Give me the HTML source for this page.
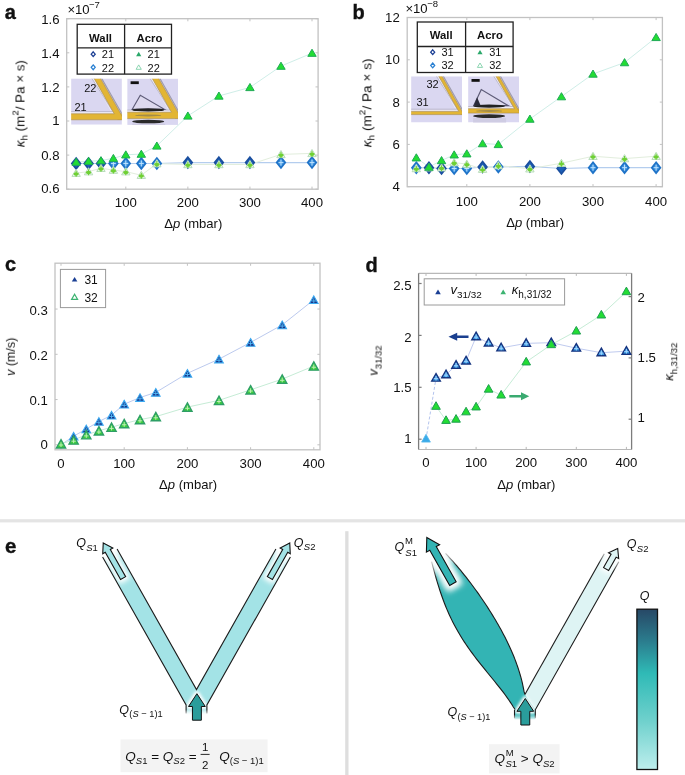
<!DOCTYPE html>
<html><head><meta charset="utf-8"><title>figure</title>
<style>html,body{margin:0;padding:0;background:#fff;}svg{display:block;}text{will-change:transform;}text{font-family:"Liberation Sans", sans-serif;}</style>
</head><body>
<svg width="685" height="775" viewBox="0 0 685 775" font-family='"Liberation Sans", sans-serif'>
<defs>
<filter id="blur2" x="-50%" y="-50%" width="200%" height="200%"><feGaussianBlur stdDeviation="1.6"/></filter>
<filter id="blur3" x="-50%" y="-50%" width="200%" height="200%"><feGaussianBlur stdDeviation="2.6"/></filter>
<filter id="blur4" x="-50%" y="-50%" width="200%" height="200%"><feGaussianBlur stdDeviation="3.4"/></filter>
<linearGradient id="fadeTop" x1="0" y1="0" x2="0" y2="1"><stop offset="0" stop-color="#fff" stop-opacity="0.85"/><stop offset="1" stop-color="#fff" stop-opacity="0"/></linearGradient>
<linearGradient id="fadeTop2" x1="0" y1="0" x2="0" y2="1"><stop offset="0" stop-color="#fff" stop-opacity="0.75"/><stop offset="1" stop-color="#fff" stop-opacity="0"/></linearGradient>
<linearGradient id="fadeTop3" x1="0" y1="0" x2="0" y2="1"><stop offset="0" stop-color="#fff" stop-opacity="0.9"/><stop offset="0.5" stop-color="#fff" stop-opacity="0.45"/><stop offset="1" stop-color="#fff" stop-opacity="0"/></linearGradient>
<linearGradient id="fadeBot" x1="0" y1="0" x2="0" y2="1"><stop offset="0" stop-color="#fff" stop-opacity="0"/><stop offset="1" stop-color="#fff" stop-opacity="1"/></linearGradient>
<linearGradient id="cbar" x1="0" y1="0" x2="0" y2="1">
<stop offset="0" stop-color="#274866"/><stop offset="0.2" stop-color="#2b7d8e"/><stop offset="0.4" stop-color="#2fbab6"/>
<stop offset="0.7" stop-color="#70d1cd"/><stop offset="1" stop-color="#bdeeed"/></linearGradient>
<clipPath id="c0"><rect x="71.1" y="78.4" width="50.8" height="46.3"/></clipPath><clipPath id="c1"><rect x="127.2" y="78.6" width="50.8" height="46.3"/></clipPath><clipPath id="c2"><rect x="411.1" y="76.3" width="50.9" height="46.2"/></clipPath><clipPath id="c3"><rect x="468.1" y="76.3" width="50.9" height="46.2"/></clipPath></defs>
<rect width="685" height="775" fill="#fff"/>
<rect x="66.7" y="18.7" width="251.4" height="170.5" fill="none" stroke="#c2c2c2" stroke-width="1.3" />
<line x1="66.7" y1="189.2" x2="69.3" y2="189.2" stroke="#c2c2c2" stroke-width="1" />
<line x1="318.1" y1="189.2" x2="315.5" y2="189.2" stroke="#c2c2c2" stroke-width="1" />
<line x1="66.7" y1="155.1" x2="69.3" y2="155.1" stroke="#c2c2c2" stroke-width="1" />
<line x1="318.1" y1="155.1" x2="315.5" y2="155.1" stroke="#c2c2c2" stroke-width="1" />
<line x1="66.7" y1="121" x2="69.3" y2="121" stroke="#c2c2c2" stroke-width="1" />
<line x1="318.1" y1="121" x2="315.5" y2="121" stroke="#c2c2c2" stroke-width="1" />
<line x1="66.7" y1="86.9" x2="69.3" y2="86.9" stroke="#c2c2c2" stroke-width="1" />
<line x1="318.1" y1="86.9" x2="315.5" y2="86.9" stroke="#c2c2c2" stroke-width="1" />
<line x1="66.7" y1="52.8" x2="69.3" y2="52.8" stroke="#c2c2c2" stroke-width="1" />
<line x1="318.1" y1="52.8" x2="315.5" y2="52.8" stroke="#c2c2c2" stroke-width="1" />
<line x1="66.7" y1="18.7" x2="69.3" y2="18.7" stroke="#c2c2c2" stroke-width="1" />
<line x1="318.1" y1="18.7" x2="315.5" y2="18.7" stroke="#c2c2c2" stroke-width="1" />
<line x1="125.8" y1="189.2" x2="125.8" y2="186.6" stroke="#c2c2c2" stroke-width="1" />
<line x1="125.8" y1="18.7" x2="125.8" y2="21.3" stroke="#c2c2c2" stroke-width="1" />
<line x1="187.87" y1="189.2" x2="187.87" y2="186.6" stroke="#c2c2c2" stroke-width="1" />
<line x1="187.87" y1="18.7" x2="187.87" y2="21.3" stroke="#c2c2c2" stroke-width="1" />
<line x1="249.94" y1="189.2" x2="249.94" y2="186.6" stroke="#c2c2c2" stroke-width="1" />
<line x1="249.94" y1="18.7" x2="249.94" y2="21.3" stroke="#c2c2c2" stroke-width="1" />
<line x1="312.01" y1="189.2" x2="312.01" y2="186.6" stroke="#c2c2c2" stroke-width="1" />
<line x1="312.01" y1="18.7" x2="312.01" y2="21.3" stroke="#c2c2c2" stroke-width="1" />
<text transform="translate(59.6,24.4) scale(1.1,1)" font-size="12" text-anchor="end" font-weight="normal" font-style="normal" fill="#111" >1.6</text>
<text transform="translate(59.6,57.9) scale(1.1,1)" font-size="12" text-anchor="end" font-weight="normal" font-style="normal" fill="#111" >1.4</text>
<text transform="translate(59.6,92) scale(1.1,1)" font-size="12" text-anchor="end" font-weight="normal" font-style="normal" fill="#111" >1.2</text>
<text transform="translate(59.6,125.4) scale(1.1,1)" font-size="12" text-anchor="end" font-weight="normal" font-style="normal" fill="#111" >1</text>
<text transform="translate(59.6,159.5) scale(1.1,1)" font-size="12" text-anchor="end" font-weight="normal" font-style="normal" fill="#111" >0.8</text>
<text transform="translate(59.6,192.5) scale(1.1,1)" font-size="12" text-anchor="end" font-weight="normal" font-style="normal" fill="#111" >0.6</text>
<text transform="translate(125.8,206.6) scale(1.1,1)" font-size="12" text-anchor="middle" font-weight="normal" font-style="normal" fill="#111" >100</text>
<text transform="translate(187.87,206.6) scale(1.1,1)" font-size="12" text-anchor="middle" font-weight="normal" font-style="normal" fill="#111" >200</text>
<text transform="translate(249.94,206.6) scale(1.1,1)" font-size="12" text-anchor="middle" font-weight="normal" font-style="normal" fill="#111" >300</text>
<text transform="translate(312.01,206.6) scale(1.1,1)" font-size="12" text-anchor="middle" font-weight="normal" font-style="normal" fill="#111" >400</text>
<text transform="translate(67.4,13.9) scale(1.05,1)" font-size="12.5" text-anchor="start" font-weight="normal" font-style="normal" fill="#111" >&#215;10</text>
<text x="88.9" y="8" font-size="9.5" text-anchor="start" font-weight="normal" font-style="normal" fill="#111" >&#8722;7</text>
<text transform="translate(24.5,103.6) rotate(-90) scale(1.03,1)" font-size="13" text-anchor="middle" fill="#111"><tspan font-style="italic">&#954;</tspan><tspan font-size="9.5" dy="2.6">h</tspan><tspan dy="-2.6"> (m</tspan><tspan font-size="9.5" dy="-5.6">2</tspan><tspan dy="5.6">/ Pa &#215; s)</tspan></text>
<text transform="translate(193.3,227.6) scale(1.045,1)" font-size="12.5" text-anchor="middle" fill="#111">&#916;<tspan font-style="italic">p</tspan> (mbar)</text>
<polyline points="76.14,163.45 88.56,163.45 100.97,163.45 113.39,163.45 125.8,163.45 141.32,163.45 156.84,163.45 187.87,162.6 218.91,162.6 249.94,162.6 280.98,162.6 312.01,162.6" fill="none" stroke="#b4cdee" stroke-width="1.1" />
<polyline points="76.14,162.09 88.56,161.24 100.97,160.56 113.39,158.34 125.8,154.76 141.32,154.08 156.84,145.89 187.87,115.88 218.91,95.94 249.94,87.41 280.98,66.1 312.01,53.14" fill="none" stroke="#cfeee8" stroke-width="1" />
<polyline points="76.14,173.17 88.56,171.64 100.97,168.23 113.39,170.1 125.8,171.64 141.32,175.22 156.84,163.62 187.87,164.48 218.91,164.48 249.94,164.48 280.98,154.42 312.01,153.39" fill="none" stroke="#e2eedd" stroke-width="1" />
<polygon points="76.14,158.05 80.44,163.45 76.14,168.85 71.84,163.45" fill="#1e60b8" stroke="#1a4e9e" stroke-width="1.7" />
<polygon points="88.56,158.05 92.86,163.45 88.56,168.85 84.26,163.45" fill="#1e60b8" stroke="#1a4e9e" stroke-width="1.7" />
<polygon points="100.97,158.05 105.27,163.45 100.97,168.85 96.67,163.45" fill="#1e60b8" stroke="#1a4e9e" stroke-width="1.7" />
<polygon points="113.39,158.05 117.69,163.45 113.39,168.85 109.09,163.45" fill="#3d93de" stroke="#1f73c8" stroke-width="1.7" />
<line x1="110.99" y1="163.45" x2="115.79" y2="163.45" stroke="#bfe2ff" stroke-width="1" />
<line x1="113.39" y1="160.45" x2="113.39" y2="166.45" stroke="#bfe2ff" stroke-width="1" />
<polygon points="125.8,158.05 130.1,163.45 125.8,168.85 121.5,163.45" fill="#3d93de" stroke="#1f73c8" stroke-width="1.7" />
<line x1="123.4" y1="163.45" x2="128.2" y2="163.45" stroke="#bfe2ff" stroke-width="1" />
<line x1="125.8" y1="160.45" x2="125.8" y2="166.45" stroke="#bfe2ff" stroke-width="1" />
<polygon points="141.32,158.05 145.62,163.45 141.32,168.85 137.02,163.45" fill="#3d93de" stroke="#1f73c8" stroke-width="1.7" />
<line x1="138.92" y1="163.45" x2="143.72" y2="163.45" stroke="#bfe2ff" stroke-width="1" />
<line x1="141.32" y1="160.45" x2="141.32" y2="166.45" stroke="#bfe2ff" stroke-width="1" />
<polygon points="156.84,158.05 161.14,163.45 156.84,168.85 152.53,163.45" fill="#3d93de" stroke="#1f73c8" stroke-width="1.7" />
<line x1="154.44" y1="163.45" x2="159.24" y2="163.45" stroke="#bfe2ff" stroke-width="1" />
<line x1="156.84" y1="160.45" x2="156.84" y2="166.45" stroke="#bfe2ff" stroke-width="1" />
<polygon points="187.87,157.2 192.17,162.6 187.87,168 183.57,162.6" fill="#1e60b8" stroke="#1a4e9e" stroke-width="1.7" />
<polygon points="218.91,157.2 223.21,162.6 218.91,168 214.6,162.6" fill="#1e60b8" stroke="#1a4e9e" stroke-width="1.7" />
<polygon points="249.94,157.2 254.24,162.6 249.94,168 245.64,162.6" fill="#1e60b8" stroke="#1a4e9e" stroke-width="1.7" />
<polygon points="280.98,157.2 285.28,162.6 280.98,168 276.68,162.6" fill="#3d93de" stroke="#1f73c8" stroke-width="1.7" />
<line x1="278.58" y1="162.6" x2="283.38" y2="162.6" stroke="#bfe2ff" stroke-width="1" />
<line x1="280.98" y1="159.6" x2="280.98" y2="165.6" stroke="#bfe2ff" stroke-width="1" />
<polygon points="312.01,157.2 316.31,162.6 312.01,168 307.71,162.6" fill="#3d93de" stroke="#1f73c8" stroke-width="1.7" />
<line x1="309.61" y1="162.6" x2="314.41" y2="162.6" stroke="#bfe2ff" stroke-width="1" />
<line x1="312.01" y1="159.6" x2="312.01" y2="165.6" stroke="#bfe2ff" stroke-width="1" />
<polygon points="76.14,169.25 80.34,176.39 71.94,176.39" fill="#f4fbf4" stroke="#b6dcb8" stroke-width="1" />
<ellipse cx="76.14" cy="173.97" rx="2.7" ry="1.8" fill="#6fd035"/>
<line x1="76.14" y1="170.67" x2="76.14" y2="176.67" stroke="#6fd035" stroke-width="1.1" />
<polygon points="88.56,167.71 92.76,174.85 84.36,174.85" fill="#f4fbf4" stroke="#b6dcb8" stroke-width="1" />
<ellipse cx="88.56" cy="172.44" rx="2.7" ry="1.8" fill="#6fd035"/>
<line x1="88.56" y1="169.14" x2="88.56" y2="175.14" stroke="#6fd035" stroke-width="1.1" />
<polygon points="100.97,164.3 105.17,171.44 96.77,171.44" fill="#f4fbf4" stroke="#b6dcb8" stroke-width="1" />
<ellipse cx="100.97" cy="169.03" rx="2.7" ry="1.8" fill="#6fd035"/>
<line x1="100.97" y1="165.73" x2="100.97" y2="171.73" stroke="#6fd035" stroke-width="1.1" />
<polygon points="113.39,166.18 117.59,173.32 109.19,173.32" fill="#f4fbf4" stroke="#b6dcb8" stroke-width="1" />
<ellipse cx="113.39" cy="170.9" rx="2.7" ry="1.8" fill="#6fd035"/>
<line x1="113.39" y1="167.6" x2="113.39" y2="173.6" stroke="#6fd035" stroke-width="1.1" />
<polygon points="125.8,167.71 130,174.85 121.6,174.85" fill="#f4fbf4" stroke="#b6dcb8" stroke-width="1" />
<ellipse cx="125.8" cy="172.44" rx="2.7" ry="1.8" fill="#6fd035"/>
<line x1="125.8" y1="169.14" x2="125.8" y2="175.14" stroke="#6fd035" stroke-width="1.1" />
<polygon points="141.32,171.29 145.52,178.43 137.12,178.43" fill="#f4fbf4" stroke="#b6dcb8" stroke-width="1" />
<ellipse cx="141.32" cy="176.02" rx="2.7" ry="1.8" fill="#6fd035"/>
<line x1="141.32" y1="172.72" x2="141.32" y2="178.72" stroke="#6fd035" stroke-width="1.1" />
<polygon points="156.84,159.7 161.03,166.84 152.64,166.84" fill="#f4fbf4" stroke="#b6dcb8" stroke-width="1" />
<ellipse cx="156.84" cy="164.43" rx="2.7" ry="1.8" fill="#6fd035"/>
<line x1="156.84" y1="161.12" x2="156.84" y2="167.12" stroke="#6fd035" stroke-width="1.1" />
<polygon points="187.87,160.55 192.07,167.69 183.67,167.69" fill="#f4fbf4" stroke="#b6dcb8" stroke-width="1" />
<ellipse cx="187.87" cy="165.28" rx="2.7" ry="1.8" fill="#6fd035"/>
<line x1="187.87" y1="161.98" x2="187.87" y2="167.98" stroke="#6fd035" stroke-width="1.1" />
<polygon points="218.91,160.55 223.1,167.69 214.71,167.69" fill="#f4fbf4" stroke="#b6dcb8" stroke-width="1" />
<ellipse cx="218.91" cy="165.28" rx="2.7" ry="1.8" fill="#6fd035"/>
<line x1="218.91" y1="161.98" x2="218.91" y2="167.98" stroke="#6fd035" stroke-width="1.1" />
<polygon points="249.94,160.55 254.14,167.69 245.74,167.69" fill="#f4fbf4" stroke="#b6dcb8" stroke-width="1" />
<ellipse cx="249.94" cy="165.28" rx="2.7" ry="1.8" fill="#6fd035"/>
<line x1="249.94" y1="161.98" x2="249.94" y2="167.98" stroke="#6fd035" stroke-width="1.1" />
<polygon points="280.98,150.49 285.18,157.63 276.78,157.63" fill="#f4fbf4" stroke="#b6dcb8" stroke-width="1" />
<ellipse cx="280.98" cy="155.22" rx="2.7" ry="1.8" fill="#6fd035"/>
<line x1="280.98" y1="151.92" x2="280.98" y2="157.92" stroke="#6fd035" stroke-width="1.1" />
<polygon points="312.01,149.47 316.21,156.61 307.81,156.61" fill="#f4fbf4" stroke="#b6dcb8" stroke-width="1" />
<ellipse cx="312.01" cy="154.19" rx="2.7" ry="1.8" fill="#6fd035"/>
<line x1="312.01" y1="150.89" x2="312.01" y2="156.89" stroke="#6fd035" stroke-width="1.1" />
<polygon points="76.14,158.16 80.34,165.3 71.94,165.3" fill="#22dd33" stroke="#1faa55" stroke-width="1" />
<polygon points="88.56,157.31 92.76,164.45 84.36,164.45" fill="#22dd33" stroke="#1faa55" stroke-width="1" />
<polygon points="100.97,156.63 105.17,163.77 96.77,163.77" fill="#22dd33" stroke="#1faa55" stroke-width="1" />
<polygon points="113.39,154.41 117.59,161.55 109.19,161.55" fill="#22dd33" stroke="#1faa55" stroke-width="1" />
<polygon points="125.8,150.83 130,157.97 121.6,157.97" fill="#22dd33" stroke="#1faa55" stroke-width="1" />
<polygon points="141.32,150.15 145.52,157.29 137.12,157.29" fill="#22dd33" stroke="#1faa55" stroke-width="1" />
<polygon points="156.84,141.97 161.03,149.11 152.64,149.11" fill="#22dd33" stroke="#1faa55" stroke-width="1" />
<polygon points="187.87,111.96 192.07,119.1 183.67,119.1" fill="#22dd33" stroke="#1faa55" stroke-width="1" />
<polygon points="218.91,92.01 223.1,99.15 214.71,99.15" fill="#22dd33" stroke="#1faa55" stroke-width="1" />
<polygon points="249.94,83.48 254.14,90.62 245.74,90.62" fill="#22dd33" stroke="#1faa55" stroke-width="1" />
<polygon points="280.98,62.17 285.18,69.31 276.78,69.31" fill="#22dd33" stroke="#1faa55" stroke-width="1" />
<polygon points="312.01,49.21 316.21,56.35 307.81,56.35" fill="#22dd33" stroke="#1faa55" stroke-width="1" />
<rect x="77.2" y="24.3" width="94.3" height="49.8" fill="#fff" stroke="#222" stroke-width="1.3" />
<line x1="124.6" y1="24.3" x2="124.6" y2="74.1" stroke="#222" stroke-width="1.3" />
<line x1="77.2" y1="47.9" x2="171.5" y2="47.9" stroke="#222" stroke-width="1.3" />
<text transform="translate(100.5,41.5) scale(1.08,1)" font-size="10.5" text-anchor="middle" font-weight="bold" font-style="normal" fill="#111" >Wall</text>
<text transform="translate(149.5,41.5) scale(1.08,1)" font-size="10.5" text-anchor="middle" font-weight="bold" font-style="normal" fill="#111" >Acro</text>
<polygon points="93.2,51.8 95.2,54.2 93.2,56.6 91.2,54.2" fill="#fff" stroke="#1c3f94" stroke-width="1.3" />
<polygon points="93.2,64.9 95.2,67.3 93.2,69.7 91.2,67.3" fill="#fff" stroke="#2a80d2" stroke-width="1.3" />
<text x="101.8" y="58.2" font-size="11" text-anchor="start" font-weight="normal" font-style="normal" fill="#111" >21</text>
<text x="101.8" y="72" font-size="11" text-anchor="start" font-weight="normal" font-style="normal" fill="#111" >22</text>
<polygon points="138.7,51.8 141.3,56.2 136.1,56.2" fill="#2aa86a" stroke="none" stroke-width="1" />
<polygon points="138.7,64.9 141.3,69.3 136.1,69.3" fill="#fff" stroke="#7fd0a8" stroke-width="0.9" />
<text x="147.6" y="58.2" font-size="11" text-anchor="start" font-weight="normal" font-style="normal" fill="#111" >21</text>
<text x="147.6" y="72" font-size="11" text-anchor="start" font-weight="normal" font-style="normal" fill="#111" >22</text>
<g clip-path="url(#c0)">
<rect x="71.1" y="78.4" width="50.8" height="46.3" fill="#dad7f1" stroke="none" stroke-width="1" />
<polygon points="71.1,111.8 111.54,111.8 114.28,113.8 71.1,113.8" fill="#eeecf6" stroke="none" stroke-width="1" />
<polygon points="92.3,78.4 94.1,78.4 114.28,113.8 112.48,113.8" fill="#eeecf6" stroke="none" stroke-width="1" />
<line x1="91.9" y1="78.4" x2="112.82" y2="111.6" stroke="#b2b0c4" stroke-width="0.8"/>
<line x1="71.1" y1="111.6" x2="112.82" y2="111.6" stroke="#b2b0c4" stroke-width="0.8"/>
<polygon points="101.1,78.4 102.4,78.4 126,119.8 124.7,119.8" fill="#9c9aad" stroke="none" stroke-width="1" />
<polygon points="94.1,78.4 100.5,78.4 124.1,119.8 117.7,119.8" fill="#e2b534" stroke="none" stroke-width="1" />
<polygon points="71.1,113.8 121.9,113.8 121.9,119.8 71.1,119.8" fill="#e2b534" stroke="none" stroke-width="1" />
<line x1="71.1" y1="113.8" x2="114.28" y2="113.8" stroke="#a88a4a" stroke-width="0.6" />
<line x1="71.1" y1="119.8" x2="121.9" y2="119.8" stroke="#a88a4a" stroke-width="0.6" />
<line x1="94.1" y1="78.4" x2="114.28" y2="113.8" stroke="#a88a4a" stroke-width="0.6"/>
<line x1="100.5" y1="78.4" x2="124.1" y2="119.8" stroke="#a88a4a" stroke-width="0.6"/>
<text x="84.2" y="91.9" font-size="11" text-anchor="start" font-weight="normal" font-style="normal" fill="#111" >22</text>
<text x="74.4" y="110.6" font-size="11" text-anchor="start" font-weight="normal" font-style="normal" fill="#111" >21</text>
</g>
<g clip-path="url(#c1)">
<rect x="127.2" y="78.6" width="50.8" height="46.3" fill="#dad7f1" stroke="none" stroke-width="1" />
<polygon points="127.2,110.2 168.71,110.2 171.45,112.2 127.2,112.2" fill="#eeecf6" stroke="none" stroke-width="1" />
<polygon points="150.5,78.6 152.3,78.6 171.45,112.2 169.65,112.2" fill="#eeecf6" stroke="none" stroke-width="1" />
<line x1="150.1" y1="78.6" x2="170" y2="110" stroke="#b2b0c4" stroke-width="0.8"/>
<line x1="127.2" y1="110" x2="170" y2="110" stroke="#b2b0c4" stroke-width="0.8"/>
<polygon points="159.3,78.6 160.6,78.6 183.4,118.6 182.1,118.6" fill="#9c9aad" stroke="none" stroke-width="1" />
<polygon points="152.3,78.6 158.7,78.6 181.5,118.6 175.1,118.6" fill="#e2b534" stroke="none" stroke-width="1" />
<polygon points="127.2,112.2 178,112.2 178,118.6 127.2,118.6" fill="#e2b534" stroke="none" stroke-width="1" />
<line x1="127.2" y1="112.2" x2="171.45" y2="112.2" stroke="#a88a4a" stroke-width="0.6" />
<line x1="127.2" y1="118.6" x2="178" y2="118.6" stroke="#a88a4a" stroke-width="0.6" />
<line x1="152.3" y1="78.6" x2="171.45" y2="112.2" stroke="#a88a4a" stroke-width="0.6"/>
<line x1="158.7" y1="78.6" x2="181.5" y2="118.6" stroke="#a88a4a" stroke-width="0.6"/>
<rect x="130.6" y="81.3" width="8.2" height="2.8" fill="#111" stroke="none" stroke-width="1" />
<polygon points="140.3,95.3 132.2,109.3 164.4,109.3" fill="#ddd9ee" stroke="#5e5c78" stroke-width="1.2" />
<ellipse cx="148.2" cy="109.9" rx="16" ry="1.7" fill="#222"/>
<ellipse cx="148.2" cy="121.6" rx="16" ry="1.9" fill="#2a2a2a"/>
<ellipse cx="148.2" cy="115.4" rx="13" ry="1.0" fill="#8a7a50" opacity="0.7"/>
<rect x="132.2" y="123.6" width="33" height="46.3" fill="#cfcce3" stroke="none" stroke-width="1" />
</g>
<text x="4.8" y="19.2" font-size="20" text-anchor="start" font-weight="bold" font-style="normal" fill="#111" stroke="#111" stroke-width="0.35">a</text>
<rect x="407.2" y="17.5" width="255.2" height="169.2" fill="none" stroke="#c2c2c2" stroke-width="1.3" />
<line x1="407.2" y1="186.7" x2="409.8" y2="186.7" stroke="#c2c2c2" stroke-width="1" />
<line x1="662.4" y1="186.7" x2="659.8" y2="186.7" stroke="#c2c2c2" stroke-width="1" />
<line x1="407.2" y1="144.4" x2="409.8" y2="144.4" stroke="#c2c2c2" stroke-width="1" />
<line x1="662.4" y1="144.4" x2="659.8" y2="144.4" stroke="#c2c2c2" stroke-width="1" />
<line x1="407.2" y1="102.1" x2="409.8" y2="102.1" stroke="#c2c2c2" stroke-width="1" />
<line x1="662.4" y1="102.1" x2="659.8" y2="102.1" stroke="#c2c2c2" stroke-width="1" />
<line x1="407.2" y1="59.8" x2="409.8" y2="59.8" stroke="#c2c2c2" stroke-width="1" />
<line x1="662.4" y1="59.8" x2="659.8" y2="59.8" stroke="#c2c2c2" stroke-width="1" />
<line x1="407.2" y1="17.5" x2="409.8" y2="17.5" stroke="#c2c2c2" stroke-width="1" />
<line x1="662.4" y1="17.5" x2="659.8" y2="17.5" stroke="#c2c2c2" stroke-width="1" />
<line x1="466.8" y1="186.7" x2="466.8" y2="184.1" stroke="#c2c2c2" stroke-width="1" />
<line x1="466.8" y1="17.5" x2="466.8" y2="20.1" stroke="#c2c2c2" stroke-width="1" />
<line x1="529.9" y1="186.7" x2="529.9" y2="184.1" stroke="#c2c2c2" stroke-width="1" />
<line x1="529.9" y1="17.5" x2="529.9" y2="20.1" stroke="#c2c2c2" stroke-width="1" />
<line x1="593" y1="186.7" x2="593" y2="184.1" stroke="#c2c2c2" stroke-width="1" />
<line x1="593" y1="17.5" x2="593" y2="20.1" stroke="#c2c2c2" stroke-width="1" />
<line x1="656.1" y1="186.7" x2="656.1" y2="184.1" stroke="#c2c2c2" stroke-width="1" />
<line x1="656.1" y1="17.5" x2="656.1" y2="20.1" stroke="#c2c2c2" stroke-width="1" />
<text transform="translate(399.8,191.1) scale(1.1,1)" font-size="12" text-anchor="end" font-weight="normal" font-style="normal" fill="#111" >4</text>
<text transform="translate(399.8,148.8) scale(1.1,1)" font-size="12" text-anchor="end" font-weight="normal" font-style="normal" fill="#111" >6</text>
<text transform="translate(399.8,106.5) scale(1.1,1)" font-size="12" text-anchor="end" font-weight="normal" font-style="normal" fill="#111" >8</text>
<text transform="translate(399.8,64.2) scale(1.1,1)" font-size="12" text-anchor="end" font-weight="normal" font-style="normal" fill="#111" >10</text>
<text transform="translate(399.8,21.9) scale(1.1,1)" font-size="12" text-anchor="end" font-weight="normal" font-style="normal" fill="#111" >12</text>
<text transform="translate(466.8,205.5) scale(1.1,1)" font-size="12" text-anchor="middle" font-weight="normal" font-style="normal" fill="#111" >100</text>
<text transform="translate(529.9,205.5) scale(1.1,1)" font-size="12" text-anchor="middle" font-weight="normal" font-style="normal" fill="#111" >200</text>
<text transform="translate(593,205.5) scale(1.1,1)" font-size="12" text-anchor="middle" font-weight="normal" font-style="normal" fill="#111" >300</text>
<text transform="translate(656.1,205.5) scale(1.1,1)" font-size="12" text-anchor="middle" font-weight="normal" font-style="normal" fill="#111" >400</text>
<text transform="translate(405.4,12.8) scale(1.05,1)" font-size="12.5" text-anchor="start" font-weight="normal" font-style="normal" fill="#111" >&#215;10</text>
<text x="427.2" y="6.9" font-size="9.5" text-anchor="start" font-weight="normal" font-style="normal" fill="#111" >&#8722;8</text>
<text transform="translate(371.4,102.9) rotate(-90) scale(1.05,1)" font-size="13" text-anchor="middle" fill="#111"><tspan font-style="italic">&#954;</tspan><tspan font-size="9.5" dy="2.6">h</tspan><tspan dy="-2.6"> (m</tspan><tspan font-size="9.5" dy="-5.6">2</tspan><tspan dy="5.6">/ Pa &#215; s)</tspan></text>
<text transform="translate(535.2,226.6) scale(1.045,1)" font-size="12.5" text-anchor="middle" fill="#111">&#916;<tspan font-style="italic">p</tspan> (mbar)</text>
<polyline points="416.32,167.66 428.94,167.66 441.56,168.51 454.18,168.51 466.8,168.51 482.57,167.03 498.35,167.03 529.9,166.4 561.45,168.51 593,167.66 624.55,167.66 656.1,167.66" fill="none" stroke="#b4cdee" stroke-width="1.1" />
<polyline points="416.32,157.72 428.94,167.03 441.56,160.47 454.18,154.76 466.8,153.71 482.57,143.55 498.35,144.4 529.9,119.02 561.45,96.6 593,73.97 624.55,62.55 656.1,37.38" fill="none" stroke="#cfeee8" stroke-width="1" />
<polyline points="416.32,168.51 428.94,167.66 441.56,167.66 454.18,162.59 466.8,164.07 482.57,169.15 498.35,165.55 529.9,168.72 561.45,163.22 593,156.24 624.55,158.57 656.1,156.24" fill="none" stroke="#e2eedd" stroke-width="1" />
<polygon points="416.32,162.26 420.62,167.66 416.32,173.06 412.02,167.66" fill="#3d93de" stroke="#1f73c8" stroke-width="1.7" />
<line x1="413.92" y1="167.66" x2="418.72" y2="167.66" stroke="#bfe2ff" stroke-width="1" />
<line x1="416.32" y1="164.66" x2="416.32" y2="170.66" stroke="#bfe2ff" stroke-width="1" />
<polygon points="428.94,162.26 433.24,167.66 428.94,173.06 424.64,167.66" fill="#1e60b8" stroke="#1a4e9e" stroke-width="1.7" />
<polygon points="441.56,163.11 445.86,168.51 441.56,173.91 437.26,168.51" fill="#1e60b8" stroke="#1a4e9e" stroke-width="1.7" />
<polygon points="454.18,163.11 458.48,168.51 454.18,173.91 449.88,168.51" fill="#3d93de" stroke="#1f73c8" stroke-width="1.7" />
<line x1="451.78" y1="168.51" x2="456.58" y2="168.51" stroke="#bfe2ff" stroke-width="1" />
<line x1="454.18" y1="165.51" x2="454.18" y2="171.51" stroke="#bfe2ff" stroke-width="1" />
<polygon points="466.8,163.11 471.1,168.51 466.8,173.91 462.5,168.51" fill="#3d93de" stroke="#1f73c8" stroke-width="1.7" />
<line x1="464.4" y1="168.51" x2="469.2" y2="168.51" stroke="#bfe2ff" stroke-width="1" />
<line x1="466.8" y1="165.51" x2="466.8" y2="171.51" stroke="#bfe2ff" stroke-width="1" />
<polygon points="482.57,161.63 486.88,167.03 482.57,172.43 478.27,167.03" fill="#1e60b8" stroke="#1a4e9e" stroke-width="1.7" />
<polygon points="498.35,161.63 502.65,167.03 498.35,172.43 494.05,167.03" fill="#3d93de" stroke="#1f73c8" stroke-width="1.7" />
<line x1="495.95" y1="167.03" x2="500.75" y2="167.03" stroke="#bfe2ff" stroke-width="1" />
<line x1="498.35" y1="164.03" x2="498.35" y2="170.03" stroke="#bfe2ff" stroke-width="1" />
<polygon points="529.9,161 534.2,166.4 529.9,171.8 525.6,166.4" fill="#1e60b8" stroke="#1a4e9e" stroke-width="1.7" />
<polygon points="561.45,163.11 565.75,168.51 561.45,173.91 557.15,168.51" fill="#1e60b8" stroke="#1a4e9e" stroke-width="1.7" />
<polygon points="593,162.26 597.3,167.66 593,173.06 588.7,167.66" fill="#3d93de" stroke="#1f73c8" stroke-width="1.7" />
<line x1="590.6" y1="167.66" x2="595.4" y2="167.66" stroke="#bfe2ff" stroke-width="1" />
<line x1="593" y1="164.66" x2="593" y2="170.66" stroke="#bfe2ff" stroke-width="1" />
<polygon points="624.55,162.26 628.85,167.66 624.55,173.06 620.25,167.66" fill="#3d93de" stroke="#1f73c8" stroke-width="1.7" />
<line x1="622.15" y1="167.66" x2="626.95" y2="167.66" stroke="#bfe2ff" stroke-width="1" />
<line x1="624.55" y1="164.66" x2="624.55" y2="170.66" stroke="#bfe2ff" stroke-width="1" />
<polygon points="656.1,162.26 660.4,167.66 656.1,173.06 651.8,167.66" fill="#3d93de" stroke="#1f73c8" stroke-width="1.7" />
<line x1="653.7" y1="167.66" x2="658.5" y2="167.66" stroke="#bfe2ff" stroke-width="1" />
<line x1="656.1" y1="164.66" x2="656.1" y2="170.66" stroke="#bfe2ff" stroke-width="1" />
<polygon points="416.32,164.58 420.52,171.72 412.12,171.72" fill="#f4fbf4" stroke="#b6dcb8" stroke-width="1" />
<ellipse cx="416.32" cy="169.31" rx="2.7" ry="1.8" fill="#6fd035"/>
<line x1="416.32" y1="166.01" x2="416.32" y2="172.01" stroke="#6fd035" stroke-width="1.1" />
<polygon points="428.94,163.74 433.14,170.88 424.74,170.88" fill="#f4fbf4" stroke="#b6dcb8" stroke-width="1" />
<ellipse cx="428.94" cy="168.47" rx="2.7" ry="1.8" fill="#6fd035"/>
<line x1="428.94" y1="165.16" x2="428.94" y2="171.16" stroke="#6fd035" stroke-width="1.1" />
<polygon points="441.56,163.74 445.76,170.88 437.36,170.88" fill="#f4fbf4" stroke="#b6dcb8" stroke-width="1" />
<ellipse cx="441.56" cy="168.47" rx="2.7" ry="1.8" fill="#6fd035"/>
<line x1="441.56" y1="165.16" x2="441.56" y2="171.16" stroke="#6fd035" stroke-width="1.1" />
<polygon points="454.18,158.66 458.38,165.8 449.98,165.8" fill="#f4fbf4" stroke="#b6dcb8" stroke-width="1" />
<ellipse cx="454.18" cy="163.39" rx="2.7" ry="1.8" fill="#6fd035"/>
<line x1="454.18" y1="160.09" x2="454.18" y2="166.09" stroke="#6fd035" stroke-width="1.1" />
<polygon points="466.8,160.14 471,167.28 462.6,167.28" fill="#f4fbf4" stroke="#b6dcb8" stroke-width="1" />
<ellipse cx="466.8" cy="164.87" rx="2.7" ry="1.8" fill="#6fd035"/>
<line x1="466.8" y1="161.57" x2="466.8" y2="167.57" stroke="#6fd035" stroke-width="1.1" />
<polygon points="482.57,165.22 486.77,172.36 478.38,172.36" fill="#f4fbf4" stroke="#b6dcb8" stroke-width="1" />
<ellipse cx="482.57" cy="169.95" rx="2.7" ry="1.8" fill="#6fd035"/>
<line x1="482.57" y1="166.65" x2="482.57" y2="172.65" stroke="#6fd035" stroke-width="1.1" />
<polygon points="498.35,161.62 502.55,168.76 494.15,168.76" fill="#f4fbf4" stroke="#b6dcb8" stroke-width="1" />
<ellipse cx="498.35" cy="166.35" rx="2.7" ry="1.8" fill="#6fd035"/>
<line x1="498.35" y1="163.05" x2="498.35" y2="169.05" stroke="#6fd035" stroke-width="1.1" />
<polygon points="529.9,164.8 534.1,171.94 525.7,171.94" fill="#f4fbf4" stroke="#b6dcb8" stroke-width="1" />
<ellipse cx="529.9" cy="169.52" rx="2.7" ry="1.8" fill="#6fd035"/>
<line x1="529.9" y1="166.22" x2="529.9" y2="172.22" stroke="#6fd035" stroke-width="1.1" />
<polygon points="561.45,159.3 565.65,166.44 557.25,166.44" fill="#f4fbf4" stroke="#b6dcb8" stroke-width="1" />
<ellipse cx="561.45" cy="164.02" rx="2.7" ry="1.8" fill="#6fd035"/>
<line x1="561.45" y1="160.72" x2="561.45" y2="166.72" stroke="#6fd035" stroke-width="1.1" />
<polygon points="593,152.32 597.2,159.46 588.8,159.46" fill="#f4fbf4" stroke="#b6dcb8" stroke-width="1" />
<ellipse cx="593" cy="157.04" rx="2.7" ry="1.8" fill="#6fd035"/>
<line x1="593" y1="153.74" x2="593" y2="159.74" stroke="#6fd035" stroke-width="1.1" />
<polygon points="624.55,154.64 628.75,161.78 620.35,161.78" fill="#f4fbf4" stroke="#b6dcb8" stroke-width="1" />
<ellipse cx="624.55" cy="159.37" rx="2.7" ry="1.8" fill="#6fd035"/>
<line x1="624.55" y1="156.07" x2="624.55" y2="162.07" stroke="#6fd035" stroke-width="1.1" />
<polygon points="656.1,152.32 660.3,159.46 651.9,159.46" fill="#f4fbf4" stroke="#b6dcb8" stroke-width="1" />
<ellipse cx="656.1" cy="157.04" rx="2.7" ry="1.8" fill="#6fd035"/>
<line x1="656.1" y1="153.74" x2="656.1" y2="159.74" stroke="#6fd035" stroke-width="1.1" />
<polygon points="416.32,153.8 420.52,160.94 412.12,160.94" fill="#22dd33" stroke="#1faa55" stroke-width="1" />
<polygon points="428.94,163.1 433.14,170.24 424.74,170.24" fill="#22dd33" stroke="#1faa55" stroke-width="1" />
<polygon points="441.56,156.55 445.76,163.69 437.36,163.69" fill="#22dd33" stroke="#1faa55" stroke-width="1" />
<polygon points="454.18,150.84 458.38,157.98 449.98,157.98" fill="#22dd33" stroke="#1faa55" stroke-width="1" />
<polygon points="466.8,149.78 471,156.92 462.6,156.92" fill="#22dd33" stroke="#1faa55" stroke-width="1" />
<polygon points="482.57,139.63 486.77,146.77 478.38,146.77" fill="#22dd33" stroke="#1faa55" stroke-width="1" />
<polygon points="498.35,140.47 502.55,147.61 494.15,147.61" fill="#22dd33" stroke="#1faa55" stroke-width="1" />
<polygon points="529.9,115.09 534.1,122.23 525.7,122.23" fill="#22dd33" stroke="#1faa55" stroke-width="1" />
<polygon points="561.45,92.67 565.65,99.81 557.25,99.81" fill="#22dd33" stroke="#1faa55" stroke-width="1" />
<polygon points="593,70.04 597.2,77.18 588.8,77.18" fill="#22dd33" stroke="#1faa55" stroke-width="1" />
<polygon points="624.55,58.62 628.75,65.76 620.35,65.76" fill="#22dd33" stroke="#1faa55" stroke-width="1" />
<polygon points="656.1,33.45 660.3,40.59 651.9,40.59" fill="#22dd33" stroke="#1faa55" stroke-width="1" />
<rect x="417.3" y="22" width="95.8" height="50.5" fill="#fff" stroke="#222" stroke-width="1.3" />
<line x1="465.6" y1="22" x2="465.6" y2="72.5" stroke="#222" stroke-width="1.3" />
<line x1="417.3" y1="46.5" x2="513.1" y2="46.5" stroke="#222" stroke-width="1.3" />
<text transform="translate(441.2,39) scale(1.08,1)" font-size="10.5" text-anchor="middle" font-weight="bold" font-style="normal" fill="#111" >Wall</text>
<text transform="translate(490,39) scale(1.08,1)" font-size="10.5" text-anchor="middle" font-weight="bold" font-style="normal" fill="#111" >Acro</text>
<polygon points="432.7,49.8 434.7,52.2 432.7,54.6 430.7,52.2" fill="#fff" stroke="#1c3f94" stroke-width="1.3" />
<polygon points="432.7,63 434.7,65.4 432.7,67.8 430.7,65.4" fill="#fff" stroke="#2a80d2" stroke-width="1.3" />
<text x="441.4" y="56.3" font-size="11" text-anchor="start" font-weight="normal" font-style="normal" fill="#111" >31</text>
<text x="441.4" y="69.4" font-size="11" text-anchor="start" font-weight="normal" font-style="normal" fill="#111" >32</text>
<polygon points="480,49.9 482.6,54.3 477.4,54.3" fill="#2aa86a" stroke="none" stroke-width="1" />
<polygon points="480,63 482.6,67.4 477.4,67.4" fill="#fff" stroke="#7fd0a8" stroke-width="0.9" />
<text x="489.2" y="56.3" font-size="11" text-anchor="start" font-weight="normal" font-style="normal" fill="#111" >31</text>
<text x="489.2" y="69.4" font-size="11" text-anchor="start" font-weight="normal" font-style="normal" fill="#111" >32</text>
<g clip-path="url(#c2)">
<rect x="411.1" y="76.3" width="50.9" height="46.2" fill="#dad7f1" stroke="none" stroke-width="1" />
<polygon points="411.1,109.4 455.97,109.4 458.71,111.4 411.1,111.4" fill="#eeecf6" stroke="none" stroke-width="1" />
<polygon points="436.9,76.3 438.7,76.3 458.71,111.4 456.91,111.4" fill="#eeecf6" stroke="none" stroke-width="1" />
<line x1="436.5" y1="76.3" x2="457.25" y2="109.2" stroke="#b2b0c4" stroke-width="0.8"/>
<line x1="411.1" y1="109.2" x2="457.25" y2="109.2" stroke="#b2b0c4" stroke-width="0.8"/>
<polygon points="442.7,76.3 444,76.3 465.83,114.6 464.53,114.6" fill="#9c9aad" stroke="none" stroke-width="1" />
<polygon points="438.7,76.3 442.1,76.3 463.93,114.6 460.53,114.6" fill="#e2b534" stroke="none" stroke-width="1" />
<polygon points="411.1,111.4 462,111.4 462,114.6 411.1,114.6" fill="#e2b534" stroke="none" stroke-width="1" />
<line x1="411.1" y1="111.4" x2="458.71" y2="111.4" stroke="#a88a4a" stroke-width="0.6" />
<line x1="411.1" y1="114.6" x2="462" y2="114.6" stroke="#a88a4a" stroke-width="0.6" />
<line x1="438.7" y1="76.3" x2="458.71" y2="111.4" stroke="#a88a4a" stroke-width="0.6"/>
<line x1="442.1" y1="76.3" x2="463.93" y2="114.6" stroke="#a88a4a" stroke-width="0.6"/>
<text x="426.4" y="87.6" font-size="11" text-anchor="start" font-weight="normal" font-style="normal" fill="#111" >32</text>
<text x="416.5" y="106.4" font-size="11" text-anchor="start" font-weight="normal" font-style="normal" fill="#111" >31</text>
</g>
<g clip-path="url(#c3)">
<rect x="468.1" y="76.3" width="50.9" height="46.2" fill="#dad7f1" stroke="none" stroke-width="1" />
<polygon points="468.1,106.7 511.73,106.7 514.47,108.7 468.1,108.7" fill="#eeecf6" stroke="none" stroke-width="1" />
<polygon points="494.2,76.3 496,76.3 514.47,108.7 512.67,108.7" fill="#eeecf6" stroke="none" stroke-width="1" />
<line x1="493.8" y1="76.3" x2="513.01" y2="106.5" stroke="#b2b0c4" stroke-width="0.8"/>
<line x1="468.1" y1="106.5" x2="513.01" y2="106.5" stroke="#b2b0c4" stroke-width="0.8"/>
<polygon points="499.8,76.3 501.1,76.3 522.08,113.1 520.78,113.1" fill="#9c9aad" stroke="none" stroke-width="1" />
<polygon points="496,76.3 499.2,76.3 520.18,113.1 516.98,113.1" fill="#e2b534" stroke="none" stroke-width="1" />
<polygon points="468.1,108.7 519,108.7 519,113.1 468.1,113.1" fill="#e2b534" stroke="none" stroke-width="1" />
<line x1="468.1" y1="108.7" x2="514.47" y2="108.7" stroke="#a88a4a" stroke-width="0.6" />
<line x1="468.1" y1="113.1" x2="519" y2="113.1" stroke="#a88a4a" stroke-width="0.6" />
<line x1="496" y1="76.3" x2="514.47" y2="108.7" stroke="#a88a4a" stroke-width="0.6"/>
<line x1="499.2" y1="76.3" x2="520.18" y2="113.1" stroke="#a88a4a" stroke-width="0.6"/>
<rect x="471.5" y="79" width="8.2" height="2.8" fill="#111" stroke="none" stroke-width="1" />
<polygon points="481.3,89.6 473.8,105.5 507.9,105.5" fill="#ddd9ee" stroke="#5e5c78" stroke-width="1.2" />
<ellipse cx="489.1" cy="106.1" rx="16" ry="1.7" fill="#222"/>
<ellipse cx="489.1" cy="116.1" rx="16" ry="1.9" fill="#2a2a2a"/>
<ellipse cx="489.1" cy="110.9" rx="13" ry="1.0" fill="#8a7a50" opacity="0.7"/>
<rect x="473.1" y="118.1" width="33" height="46.2" fill="#cfcce3" stroke="none" stroke-width="1" />
<polygon points="473.8,105.5 477.1,97.3 480.6,105.5" fill="#2a2a3a" stroke="none" stroke-width="1" />
</g>
<text x="352.4" y="19.1" font-size="20" text-anchor="start" font-weight="bold" font-style="normal" fill="#111" stroke="#111" stroke-width="0.35">b</text>
<rect x="55" y="263.2" width="265" height="186.6" fill="none" stroke="#c2c2c2" stroke-width="1.3" />
<line x1="55" y1="444.8" x2="57.6" y2="444.8" stroke="#c2c2c2" stroke-width="1" />
<line x1="320" y1="444.8" x2="317.4" y2="444.8" stroke="#c2c2c2" stroke-width="1" />
<line x1="55" y1="399.55" x2="57.6" y2="399.55" stroke="#c2c2c2" stroke-width="1" />
<line x1="320" y1="399.55" x2="317.4" y2="399.55" stroke="#c2c2c2" stroke-width="1" />
<line x1="55" y1="354.3" x2="57.6" y2="354.3" stroke="#c2c2c2" stroke-width="1" />
<line x1="320" y1="354.3" x2="317.4" y2="354.3" stroke="#c2c2c2" stroke-width="1" />
<line x1="55" y1="309.05" x2="57.6" y2="309.05" stroke="#c2c2c2" stroke-width="1" />
<line x1="320" y1="309.05" x2="317.4" y2="309.05" stroke="#c2c2c2" stroke-width="1" />
<line x1="61" y1="449.8" x2="61" y2="447.2" stroke="#c2c2c2" stroke-width="1" />
<line x1="61" y1="263.2" x2="61" y2="265.8" stroke="#c2c2c2" stroke-width="1" />
<line x1="124.2" y1="449.8" x2="124.2" y2="447.2" stroke="#c2c2c2" stroke-width="1" />
<line x1="124.2" y1="263.2" x2="124.2" y2="265.8" stroke="#c2c2c2" stroke-width="1" />
<line x1="187.4" y1="449.8" x2="187.4" y2="447.2" stroke="#c2c2c2" stroke-width="1" />
<line x1="187.4" y1="263.2" x2="187.4" y2="265.8" stroke="#c2c2c2" stroke-width="1" />
<line x1="250.6" y1="449.8" x2="250.6" y2="447.2" stroke="#c2c2c2" stroke-width="1" />
<line x1="250.6" y1="263.2" x2="250.6" y2="265.8" stroke="#c2c2c2" stroke-width="1" />
<line x1="313.8" y1="449.8" x2="313.8" y2="447.2" stroke="#c2c2c2" stroke-width="1" />
<line x1="313.8" y1="263.2" x2="313.8" y2="265.8" stroke="#c2c2c2" stroke-width="1" />
<text transform="translate(47.8,314.6) scale(1.1,1)" font-size="12" text-anchor="end" font-weight="normal" font-style="normal" fill="#111" >0.3</text>
<text transform="translate(47.8,359.5) scale(1.1,1)" font-size="12" text-anchor="end" font-weight="normal" font-style="normal" fill="#111" >0.2</text>
<text transform="translate(47.8,404.5) scale(1.1,1)" font-size="12" text-anchor="end" font-weight="normal" font-style="normal" fill="#111" >0.1</text>
<text transform="translate(47.8,449.1) scale(1.1,1)" font-size="12" text-anchor="end" font-weight="normal" font-style="normal" fill="#111" >0</text>
<text transform="translate(61,467.5) scale(1.1,1)" font-size="12" text-anchor="middle" font-weight="normal" font-style="normal" fill="#111" >0</text>
<text transform="translate(124.2,467.5) scale(1.1,1)" font-size="12" text-anchor="middle" font-weight="normal" font-style="normal" fill="#111" >100</text>
<text transform="translate(187.4,467.5) scale(1.1,1)" font-size="12" text-anchor="middle" font-weight="normal" font-style="normal" fill="#111" >200</text>
<text transform="translate(250.6,467.5) scale(1.1,1)" font-size="12" text-anchor="middle" font-weight="normal" font-style="normal" fill="#111" >300</text>
<text transform="translate(313.8,467.5) scale(1.1,1)" font-size="12" text-anchor="middle" font-weight="normal" font-style="normal" fill="#111" >400</text>
<text transform="translate(14.9,356.8) rotate(-90)" font-size="12.5" text-anchor="middle" fill="#111"><tspan font-style="italic">v</tspan> (m/s)</text>
<text transform="translate(188.1,488.6) scale(1.045,1)" font-size="12.5" text-anchor="middle" fill="#111">&#916;<tspan font-style="italic">p</tspan> (mbar)</text>
<polyline points="61,444.8 73.64,436.2 86.28,429.01 98.92,421.5 111.56,415.21 124.2,404.17 140,397.56 155.8,392.36 187.4,373.31 219,359.1 250.6,342.4 282.2,324.89 313.8,299.77" fill="none" stroke="#bccaee" stroke-width="1" />
<polyline points="61,443.8 73.64,440 86.28,434.71 98.92,430.82 111.56,427.2 124.2,423.58 140,419.6 155.8,416.61 187.4,407.11 219,400.32 250.6,389.82 282.2,379.1 313.8,366.02" fill="none" stroke="#c6ecd6" stroke-width="1" />
<polygon points="73.64,432.4 77.94,440 69.34,440" fill="#17358a" stroke="#3aa8f0" stroke-width="1.1" stroke-linejoin="miter"/>
<line x1="71.44" y1="437.4" x2="75.84" y2="437.4" stroke="#55bdf7" stroke-width="0.9" />
<line x1="73.64" y1="434.7" x2="73.64" y2="439.4" stroke="#55bdf7" stroke-width="0.9" />
<polygon points="86.28,425.21 90.58,432.81 81.98,432.81" fill="#17358a" stroke="#3aa8f0" stroke-width="1.1" stroke-linejoin="miter"/>
<line x1="84.08" y1="430.21" x2="88.48" y2="430.21" stroke="#55bdf7" stroke-width="0.9" />
<line x1="86.28" y1="427.51" x2="86.28" y2="432.21" stroke="#55bdf7" stroke-width="0.9" />
<polygon points="98.92,417.7 103.22,425.3 94.62,425.3" fill="#17358a" stroke="#3aa8f0" stroke-width="1.1" stroke-linejoin="miter"/>
<line x1="96.72" y1="422.7" x2="101.12" y2="422.7" stroke="#55bdf7" stroke-width="0.9" />
<line x1="98.92" y1="420" x2="98.92" y2="424.7" stroke="#55bdf7" stroke-width="0.9" />
<polygon points="111.56,411.41 115.86,419.01 107.26,419.01" fill="#17358a" stroke="#3aa8f0" stroke-width="1.1" stroke-linejoin="miter"/>
<line x1="109.36" y1="416.41" x2="113.76" y2="416.41" stroke="#55bdf7" stroke-width="0.9" />
<line x1="111.56" y1="413.71" x2="111.56" y2="418.41" stroke="#55bdf7" stroke-width="0.9" />
<polygon points="124.2,400.37 128.5,407.97 119.9,407.97" fill="#17358a" stroke="#3aa8f0" stroke-width="1.1" stroke-linejoin="miter"/>
<line x1="122" y1="405.37" x2="126.4" y2="405.37" stroke="#55bdf7" stroke-width="0.9" />
<line x1="124.2" y1="402.67" x2="124.2" y2="407.37" stroke="#55bdf7" stroke-width="0.9" />
<polygon points="140,393.76 144.3,401.36 135.7,401.36" fill="#17358a" stroke="#3aa8f0" stroke-width="1.1" stroke-linejoin="miter"/>
<line x1="137.8" y1="398.76" x2="142.2" y2="398.76" stroke="#55bdf7" stroke-width="0.9" />
<line x1="140" y1="396.06" x2="140" y2="400.76" stroke="#55bdf7" stroke-width="0.9" />
<polygon points="155.8,388.56 160.1,396.16 151.5,396.16" fill="#17358a" stroke="#3aa8f0" stroke-width="1.1" stroke-linejoin="miter"/>
<line x1="153.6" y1="393.56" x2="158" y2="393.56" stroke="#55bdf7" stroke-width="0.9" />
<line x1="155.8" y1="390.86" x2="155.8" y2="395.56" stroke="#55bdf7" stroke-width="0.9" />
<polygon points="187.4,369.5 191.7,377.11 183.1,377.11" fill="#17358a" stroke="#3aa8f0" stroke-width="1.1" stroke-linejoin="miter"/>
<line x1="185.2" y1="374.5" x2="189.6" y2="374.5" stroke="#55bdf7" stroke-width="0.9" />
<line x1="187.4" y1="371.81" x2="187.4" y2="376.5" stroke="#55bdf7" stroke-width="0.9" />
<polygon points="219,355.3 223.3,362.9 214.7,362.9" fill="#17358a" stroke="#3aa8f0" stroke-width="1.1" stroke-linejoin="miter"/>
<line x1="216.8" y1="360.3" x2="221.2" y2="360.3" stroke="#55bdf7" stroke-width="0.9" />
<line x1="219" y1="357.6" x2="219" y2="362.3" stroke="#55bdf7" stroke-width="0.9" />
<polygon points="250.6,338.6 254.9,346.2 246.3,346.2" fill="#17358a" stroke="#3aa8f0" stroke-width="1.1" stroke-linejoin="miter"/>
<line x1="248.4" y1="343.6" x2="252.8" y2="343.6" stroke="#55bdf7" stroke-width="0.9" />
<line x1="250.6" y1="340.9" x2="250.6" y2="345.6" stroke="#55bdf7" stroke-width="0.9" />
<polygon points="282.2,321.09 286.5,328.69 277.9,328.69" fill="#17358a" stroke="#3aa8f0" stroke-width="1.1" stroke-linejoin="miter"/>
<line x1="280" y1="326.09" x2="284.4" y2="326.09" stroke="#55bdf7" stroke-width="0.9" />
<line x1="282.2" y1="323.39" x2="282.2" y2="328.09" stroke="#55bdf7" stroke-width="0.9" />
<polygon points="313.8,295.97 318.1,303.57 309.5,303.57" fill="#17358a" stroke="#3aa8f0" stroke-width="1.1" stroke-linejoin="miter"/>
<line x1="311.6" y1="300.97" x2="316" y2="300.97" stroke="#55bdf7" stroke-width="0.9" />
<line x1="313.8" y1="298.27" x2="313.8" y2="302.97" stroke="#55bdf7" stroke-width="0.9" />
<polygon points="61,439.65 65.6,447.95 56.4,447.95" fill="#3ccf3c" stroke="#2e9e66" stroke-width="1.4" stroke-linejoin="miter"/>
<line x1="58.8" y1="445" x2="63.2" y2="445" stroke="#c8f0c0" stroke-width="0.9" />
<line x1="61" y1="442.3" x2="61" y2="447" stroke="#c8f0c0" stroke-width="0.9" />
<polygon points="73.64,435.85 78.24,444.15 69.04,444.15" fill="#3ccf3c" stroke="#2e9e66" stroke-width="1.4" stroke-linejoin="miter"/>
<line x1="71.44" y1="441.2" x2="75.84" y2="441.2" stroke="#c8f0c0" stroke-width="0.9" />
<line x1="73.64" y1="438.5" x2="73.64" y2="443.2" stroke="#c8f0c0" stroke-width="0.9" />
<polygon points="86.28,430.56 90.88,438.86 81.68,438.86" fill="#3ccf3c" stroke="#2e9e66" stroke-width="1.4" stroke-linejoin="miter"/>
<line x1="84.08" y1="435.91" x2="88.48" y2="435.91" stroke="#c8f0c0" stroke-width="0.9" />
<line x1="86.28" y1="433.21" x2="86.28" y2="437.91" stroke="#c8f0c0" stroke-width="0.9" />
<polygon points="98.92,426.67 103.52,434.97 94.32,434.97" fill="#3ccf3c" stroke="#2e9e66" stroke-width="1.4" stroke-linejoin="miter"/>
<line x1="96.72" y1="432.02" x2="101.12" y2="432.02" stroke="#c8f0c0" stroke-width="0.9" />
<line x1="98.92" y1="429.32" x2="98.92" y2="434.02" stroke="#c8f0c0" stroke-width="0.9" />
<polygon points="111.56,423.05 116.16,431.35 106.96,431.35" fill="#3ccf3c" stroke="#2e9e66" stroke-width="1.4" stroke-linejoin="miter"/>
<line x1="109.36" y1="428.4" x2="113.76" y2="428.4" stroke="#c8f0c0" stroke-width="0.9" />
<line x1="111.56" y1="425.7" x2="111.56" y2="430.4" stroke="#c8f0c0" stroke-width="0.9" />
<polygon points="124.2,419.43 128.8,427.73 119.6,427.73" fill="#3ccf3c" stroke="#2e9e66" stroke-width="1.4" stroke-linejoin="miter"/>
<line x1="122" y1="424.78" x2="126.4" y2="424.78" stroke="#c8f0c0" stroke-width="0.9" />
<line x1="124.2" y1="422.08" x2="124.2" y2="426.78" stroke="#c8f0c0" stroke-width="0.9" />
<polygon points="140,415.45 144.6,423.75 135.4,423.75" fill="#3ccf3c" stroke="#2e9e66" stroke-width="1.4" stroke-linejoin="miter"/>
<line x1="137.8" y1="420.8" x2="142.2" y2="420.8" stroke="#c8f0c0" stroke-width="0.9" />
<line x1="140" y1="418.1" x2="140" y2="422.8" stroke="#c8f0c0" stroke-width="0.9" />
<polygon points="155.8,412.46 160.4,420.76 151.2,420.76" fill="#3ccf3c" stroke="#2e9e66" stroke-width="1.4" stroke-linejoin="miter"/>
<line x1="153.6" y1="417.81" x2="158" y2="417.81" stroke="#c8f0c0" stroke-width="0.9" />
<line x1="155.8" y1="415.11" x2="155.8" y2="419.81" stroke="#c8f0c0" stroke-width="0.9" />
<polygon points="187.4,402.96 192,411.26 182.8,411.26" fill="#3ccf3c" stroke="#2e9e66" stroke-width="1.4" stroke-linejoin="miter"/>
<line x1="185.2" y1="408.31" x2="189.6" y2="408.31" stroke="#c8f0c0" stroke-width="0.9" />
<line x1="187.4" y1="405.61" x2="187.4" y2="410.31" stroke="#c8f0c0" stroke-width="0.9" />
<polygon points="219,396.17 223.6,404.47 214.4,404.47" fill="#3ccf3c" stroke="#2e9e66" stroke-width="1.4" stroke-linejoin="miter"/>
<line x1="216.8" y1="401.52" x2="221.2" y2="401.52" stroke="#c8f0c0" stroke-width="0.9" />
<line x1="219" y1="398.82" x2="219" y2="403.52" stroke="#c8f0c0" stroke-width="0.9" />
<polygon points="250.6,385.67 255.2,393.97 246,393.97" fill="#3ccf3c" stroke="#2e9e66" stroke-width="1.4" stroke-linejoin="miter"/>
<line x1="248.4" y1="391.02" x2="252.8" y2="391.02" stroke="#c8f0c0" stroke-width="0.9" />
<line x1="250.6" y1="388.32" x2="250.6" y2="393.02" stroke="#c8f0c0" stroke-width="0.9" />
<polygon points="282.2,374.95 286.8,383.25 277.6,383.25" fill="#3ccf3c" stroke="#2e9e66" stroke-width="1.4" stroke-linejoin="miter"/>
<line x1="280" y1="380.3" x2="284.4" y2="380.3" stroke="#c8f0c0" stroke-width="0.9" />
<line x1="282.2" y1="377.6" x2="282.2" y2="382.3" stroke="#c8f0c0" stroke-width="0.9" />
<polygon points="313.8,361.87 318.4,370.17 309.2,370.17" fill="#3ccf3c" stroke="#2e9e66" stroke-width="1.4" stroke-linejoin="miter"/>
<line x1="311.6" y1="367.22" x2="316" y2="367.22" stroke="#c8f0c0" stroke-width="0.9" />
<line x1="313.8" y1="364.52" x2="313.8" y2="369.22" stroke="#c8f0c0" stroke-width="0.9" />
<rect x="60.4" y="269.4" width="45.2" height="38.2" fill="#fff" stroke="#9a9a9a" stroke-width="1" />
<polygon points="74.6,276.9 77.4,281.6 71.8,281.6" fill="#1a3f94" stroke="none" stroke-width="1" />
<polygon points="74.6,294.2 77.6,299.4 71.6,299.4" fill="#fff" stroke="#3cb371" stroke-width="1.2" />
<text x="84.4" y="283.7" font-size="12" text-anchor="start" font-weight="normal" font-style="normal" fill="#111" >31</text>
<text x="84.4" y="301.5" font-size="12" text-anchor="start" font-weight="normal" font-style="normal" fill="#111" >32</text>
<text x="5" y="271.1" font-size="20" text-anchor="start" font-weight="bold" font-style="normal" fill="#111" stroke="#111" stroke-width="0.35">c</text>
<line x1="418.6" y1="273.3" x2="631.6" y2="273.3" stroke="#b8b8b8" stroke-width="1.2" />
<line x1="418.6" y1="449.5" x2="631.6" y2="449.5" stroke="#b8b8b8" stroke-width="1.2" />
<line x1="418.6" y1="273.3" x2="418.6" y2="449.5" stroke="#7c7c7c" stroke-width="1.3" />
<line x1="631.6" y1="273.3" x2="631.6" y2="449.5" stroke="#7c7c7c" stroke-width="1.3" />
<line x1="418.6" y1="439.2" x2="421.6" y2="439.2" stroke="#7c7c7c" stroke-width="1.2" />
<line x1="418.6" y1="387.3" x2="421.6" y2="387.3" stroke="#7c7c7c" stroke-width="1.2" />
<line x1="418.6" y1="335.4" x2="421.6" y2="335.4" stroke="#7c7c7c" stroke-width="1.2" />
<line x1="418.6" y1="283.5" x2="421.6" y2="283.5" stroke="#7c7c7c" stroke-width="1.2" />
<line x1="631.6" y1="419.2" x2="628.6" y2="419.2" stroke="#7c7c7c" stroke-width="1.2" />
<line x1="631.6" y1="357.9" x2="628.6" y2="357.9" stroke="#7c7c7c" stroke-width="1.2" />
<line x1="631.6" y1="296.6" x2="628.6" y2="296.6" stroke="#7c7c7c" stroke-width="1.2" />
<line x1="426" y1="449.5" x2="426" y2="446.9" stroke="#b8b8b8" stroke-width="1" />
<line x1="426" y1="273.3" x2="426" y2="275.9" stroke="#b8b8b8" stroke-width="1" />
<line x1="476.1" y1="449.5" x2="476.1" y2="446.9" stroke="#b8b8b8" stroke-width="1" />
<line x1="476.1" y1="273.3" x2="476.1" y2="275.9" stroke="#b8b8b8" stroke-width="1" />
<line x1="526.2" y1="449.5" x2="526.2" y2="446.9" stroke="#b8b8b8" stroke-width="1" />
<line x1="526.2" y1="273.3" x2="526.2" y2="275.9" stroke="#b8b8b8" stroke-width="1" />
<line x1="576.3" y1="449.5" x2="576.3" y2="446.9" stroke="#b8b8b8" stroke-width="1" />
<line x1="576.3" y1="273.3" x2="576.3" y2="275.9" stroke="#b8b8b8" stroke-width="1" />
<line x1="626.4" y1="449.5" x2="626.4" y2="446.9" stroke="#b8b8b8" stroke-width="1" />
<line x1="626.4" y1="273.3" x2="626.4" y2="275.9" stroke="#b8b8b8" stroke-width="1" />
<text transform="translate(411.6,289.8) scale(1.1,1)" font-size="12" text-anchor="end" font-weight="normal" font-style="normal" fill="#111" >2.5</text>
<text transform="translate(411.6,341.6) scale(1.1,1)" font-size="12" text-anchor="end" font-weight="normal" font-style="normal" fill="#111" >2</text>
<text transform="translate(411.6,392) scale(1.1,1)" font-size="12" text-anchor="end" font-weight="normal" font-style="normal" fill="#111" >1.5</text>
<text transform="translate(411.6,442.9) scale(1.1,1)" font-size="12" text-anchor="end" font-weight="normal" font-style="normal" fill="#111" >1</text>
<text transform="translate(637.6,302.2) scale(1.1,1)" font-size="12" text-anchor="start" font-weight="normal" font-style="normal" fill="#111" >2</text>
<text transform="translate(637.6,362.3) scale(1.1,1)" font-size="12" text-anchor="start" font-weight="normal" font-style="normal" fill="#111" >1.5</text>
<text transform="translate(637.6,422.3) scale(1.1,1)" font-size="12" text-anchor="start" font-weight="normal" font-style="normal" fill="#111" >1</text>
<text transform="translate(426,467.4) scale(1.1,1)" font-size="12" text-anchor="middle" font-weight="normal" font-style="normal" fill="#111" >0</text>
<text transform="translate(476.1,467.4) scale(1.1,1)" font-size="12" text-anchor="middle" font-weight="normal" font-style="normal" fill="#111" >100</text>
<text transform="translate(526.2,467.4) scale(1.1,1)" font-size="12" text-anchor="middle" font-weight="normal" font-style="normal" fill="#111" >200</text>
<text transform="translate(576.3,467.4) scale(1.1,1)" font-size="12" text-anchor="middle" font-weight="normal" font-style="normal" fill="#111" >300</text>
<text transform="translate(626.4,467.4) scale(1.1,1)" font-size="12" text-anchor="middle" font-weight="normal" font-style="normal" fill="#111" >400</text>
<text transform="translate(377.6,360.5) rotate(-90)" font-size="13" text-anchor="middle" fill="#111"><tspan font-style="italic">v</tspan><tspan font-size="9.5" dy="3.5">31/32</tspan></text>
<text transform="translate(673.2,361.7) rotate(-90)" font-size="13" text-anchor="middle" fill="#111"><tspan font-style="italic">&#954;</tspan><tspan font-size="9.5" dy="3.5">h,31/32</tspan></text>
<text transform="translate(526.3,488.6) scale(1.045,1)" font-size="12.5" text-anchor="middle" fill="#111">&#916;<tspan font-style="italic">p</tspan> (mbar)</text>
<polyline points="426,439.2 436.02,378.17" fill="none" stroke="#b4c4ee" stroke-width="1" stroke-dasharray="3,2"/>
<polyline points="436.02,378.17 446.04,374.74 456.06,365.29 466.08,360.93 476.1,336.75 488.62,342.98 501.15,347.86 526.2,343.39 551.25,342.67 576.3,348.17 601.35,352.73 626.4,351.18" fill="none" stroke="#c0cbef" stroke-width="1" />
<polyline points="436.02,406.33 446.04,420.43 456.06,419.2 466.08,411.84 476.1,406.94 488.62,389.16 501.15,395.05 526.2,361.95 551.25,344.66 576.3,331.05 601.35,314.99 626.4,291.7" fill="none" stroke="#c6ecd6" stroke-width="1" />
<polygon points="426,434.3 430.4,442.1 421.6,442.1" fill="#3aaae8" stroke="#56b8ee" stroke-width="0.8" stroke-linejoin="miter"/>
<polygon points="436.02,373.57 440.32,381.17 431.72,381.17" fill="#3a9de4" stroke="#15337f" stroke-width="1.4" stroke-linejoin="miter"/>
<line x1="433.82" y1="378.57" x2="438.22" y2="378.57" stroke="#a8d8ff" stroke-width="0.9" />
<line x1="436.02" y1="375.87" x2="436.02" y2="380.57" stroke="#a8d8ff" stroke-width="0.9" />
<polygon points="446.04,370.14 450.34,377.74 441.74,377.74" fill="#3a9de4" stroke="#15337f" stroke-width="1.4" stroke-linejoin="miter"/>
<line x1="443.84" y1="375.14" x2="448.24" y2="375.14" stroke="#a8d8ff" stroke-width="0.9" />
<line x1="446.04" y1="372.44" x2="446.04" y2="377.14" stroke="#a8d8ff" stroke-width="0.9" />
<polygon points="456.06,360.69 460.36,368.29 451.76,368.29" fill="#3a9de4" stroke="#15337f" stroke-width="1.4" stroke-linejoin="miter"/>
<line x1="453.86" y1="365.69" x2="458.26" y2="365.69" stroke="#a8d8ff" stroke-width="0.9" />
<line x1="456.06" y1="362.99" x2="456.06" y2="367.69" stroke="#a8d8ff" stroke-width="0.9" />
<polygon points="466.08,356.33 470.38,363.93 461.78,363.93" fill="#3a9de4" stroke="#15337f" stroke-width="1.4" stroke-linejoin="miter"/>
<line x1="463.88" y1="361.33" x2="468.28" y2="361.33" stroke="#a8d8ff" stroke-width="0.9" />
<line x1="466.08" y1="358.63" x2="466.08" y2="363.33" stroke="#a8d8ff" stroke-width="0.9" />
<polygon points="476.1,332.15 480.4,339.75 471.8,339.75" fill="#3a9de4" stroke="#15337f" stroke-width="1.4" stroke-linejoin="miter"/>
<line x1="473.9" y1="337.15" x2="478.3" y2="337.15" stroke="#a8d8ff" stroke-width="0.9" />
<line x1="476.1" y1="334.45" x2="476.1" y2="339.15" stroke="#a8d8ff" stroke-width="0.9" />
<polygon points="488.62,338.38 492.93,345.98 484.32,345.98" fill="#3a9de4" stroke="#15337f" stroke-width="1.4" stroke-linejoin="miter"/>
<line x1="486.43" y1="343.38" x2="490.82" y2="343.38" stroke="#a8d8ff" stroke-width="0.9" />
<line x1="488.62" y1="340.68" x2="488.62" y2="345.38" stroke="#a8d8ff" stroke-width="0.9" />
<polygon points="501.15,343.26 505.45,350.86 496.85,350.86" fill="#3a9de4" stroke="#15337f" stroke-width="1.4" stroke-linejoin="miter"/>
<line x1="498.95" y1="348.26" x2="503.35" y2="348.26" stroke="#a8d8ff" stroke-width="0.9" />
<line x1="501.15" y1="345.56" x2="501.15" y2="350.26" stroke="#a8d8ff" stroke-width="0.9" />
<polygon points="526.2,338.79 530.5,346.39 521.9,346.39" fill="#3a9de4" stroke="#15337f" stroke-width="1.4" stroke-linejoin="miter"/>
<line x1="524" y1="343.79" x2="528.4" y2="343.79" stroke="#a8d8ff" stroke-width="0.9" />
<line x1="526.2" y1="341.09" x2="526.2" y2="345.79" stroke="#a8d8ff" stroke-width="0.9" />
<polygon points="551.25,338.07 555.55,345.67 546.95,345.67" fill="#3a9de4" stroke="#15337f" stroke-width="1.4" stroke-linejoin="miter"/>
<line x1="549.05" y1="343.07" x2="553.45" y2="343.07" stroke="#a8d8ff" stroke-width="0.9" />
<line x1="551.25" y1="340.37" x2="551.25" y2="345.07" stroke="#a8d8ff" stroke-width="0.9" />
<polygon points="576.3,343.57 580.6,351.17 572,351.17" fill="#3a9de4" stroke="#15337f" stroke-width="1.4" stroke-linejoin="miter"/>
<line x1="574.1" y1="348.57" x2="578.5" y2="348.57" stroke="#a8d8ff" stroke-width="0.9" />
<line x1="576.3" y1="345.87" x2="576.3" y2="350.57" stroke="#a8d8ff" stroke-width="0.9" />
<polygon points="601.35,348.13 605.65,355.73 597.05,355.73" fill="#3a9de4" stroke="#15337f" stroke-width="1.4" stroke-linejoin="miter"/>
<line x1="599.15" y1="353.13" x2="603.55" y2="353.13" stroke="#a8d8ff" stroke-width="0.9" />
<line x1="601.35" y1="350.43" x2="601.35" y2="355.13" stroke="#a8d8ff" stroke-width="0.9" />
<polygon points="626.4,346.58 630.7,354.18 622.1,354.18" fill="#3a9de4" stroke="#15337f" stroke-width="1.4" stroke-linejoin="miter"/>
<line x1="624.2" y1="351.58" x2="628.6" y2="351.58" stroke="#a8d8ff" stroke-width="0.9" />
<line x1="626.4" y1="348.88" x2="626.4" y2="353.58" stroke="#a8d8ff" stroke-width="0.9" />
<polygon points="436.02,401.73 440.32,409.33 431.72,409.33" fill="#22dd33" stroke="#1f9f50" stroke-width="1" stroke-linejoin="miter"/>
<polygon points="446.04,415.83 450.34,423.43 441.74,423.43" fill="#22dd33" stroke="#1f9f50" stroke-width="1" stroke-linejoin="miter"/>
<polygon points="456.06,414.6 460.36,422.2 451.76,422.2" fill="#22dd33" stroke="#1f9f50" stroke-width="1" stroke-linejoin="miter"/>
<polygon points="466.08,407.24 470.38,414.84 461.78,414.84" fill="#22dd33" stroke="#1f9f50" stroke-width="1" stroke-linejoin="miter"/>
<polygon points="476.1,402.34 480.4,409.94 471.8,409.94" fill="#22dd33" stroke="#1f9f50" stroke-width="1" stroke-linejoin="miter"/>
<polygon points="488.62,384.56 492.93,392.16 484.32,392.16" fill="#22dd33" stroke="#1f9f50" stroke-width="1" stroke-linejoin="miter"/>
<polygon points="501.15,390.45 505.45,398.05 496.85,398.05" fill="#22dd33" stroke="#1f9f50" stroke-width="1" stroke-linejoin="miter"/>
<polygon points="526.2,357.35 530.5,364.95 521.9,364.95" fill="#22dd33" stroke="#1f9f50" stroke-width="1" stroke-linejoin="miter"/>
<polygon points="551.25,340.06 555.55,347.66 546.95,347.66" fill="#22dd33" stroke="#1f9f50" stroke-width="1" stroke-linejoin="miter"/>
<polygon points="576.3,326.45 580.6,334.05 572,334.05" fill="#22dd33" stroke="#1f9f50" stroke-width="1" stroke-linejoin="miter"/>
<polygon points="601.35,310.39 605.65,317.99 597.05,317.99" fill="#22dd33" stroke="#1f9f50" stroke-width="1" stroke-linejoin="miter"/>
<polygon points="626.4,287.1 630.7,294.7 622.1,294.7" fill="#22dd33" stroke="#1f9f50" stroke-width="1" stroke-linejoin="miter"/>
<polygon points="448.5,336.7 457.2,332.7 457.2,335.5 468.5,335.5 468.5,337.9 457.2,337.9 457.2,340.7" fill="#1a3f8f" stroke="none" stroke-width="1" />
<polygon points="529.3,396.2 521,392.2 521,395 509.3,395 509.3,397.4 521,397.4 521,400.2" fill="#3aaa70" stroke="none" stroke-width="1" />
<rect x="424.2" y="278.8" width="140.4" height="26.2" fill="#fff" stroke="#9a9a9a" stroke-width="1" />
<polygon points="438,289.4 440.8,294.2 435.2,294.2" fill="#1a3f94" stroke="none" stroke-width="1" />
<polygon points="503.2,289.4 506,294.2 500.4,294.2" fill="#3cb371" stroke="none" stroke-width="1" />
<text x="450.6" y="294.4" font-size="13" fill="#111"><tspan font-style="italic">v</tspan><tspan font-size="9.9" dy="3.6">31/32</tspan></text>
<text x="511.8" y="294.4" font-size="13" fill="#111"><tspan font-style="italic">&#954;</tspan><tspan font-size="10" dy="3.6">h,31/32</tspan></text>
<text x="365.6" y="271.6" font-size="20" text-anchor="start" font-weight="bold" font-style="normal" fill="#111" stroke="#111" stroke-width="0.35">d</text>
<rect x="0" y="519.2" width="685" height="3.2" fill="#e4e4e4" stroke="none" stroke-width="1" />
<rect x="345.2" y="531.2" width="3.3" height="244" fill="#dedede" stroke="none" stroke-width="1" />
<text x="4.9" y="553.3" font-size="20.5" text-anchor="start" font-weight="bold" font-style="normal" fill="#111" stroke="#111" stroke-width="0.35">e</text>
<polygon points="102.6,557 186.1,705 186.1,714.5 206.9,714.5 206.9,705 290.4,557 275.9,548.9 196.5,689.6 117.1,548.9" fill="#a3e3e6" stroke="none" stroke-width="1" />
<g transform="matrix(0.8709,-0.4915,0.4915,0.8709,109.85,552.95)"><polygon points="-0.8,-12 5,-2.8 2.1,-2.8 2.1,28.4 -3.7,28.4 -3.7,-2.8 -6.6,-2.8" fill="#fff" stroke="#fff" stroke-width="7" filter="url(#blur3)"/><rect x="-8" y="-1" width="16" height="12" fill="url(#fadeTop)"/></g>
<g transform="matrix(-0.8709,-0.4915,-0.4915,0.8709,283.15,552.95)"><polygon points="-0.8,-12 5,-2.8 2.1,-2.8 2.1,28.4 -3.7,28.4 -3.7,-2.8 -6.6,-2.8" fill="#fff" stroke="#fff" stroke-width="7" filter="url(#blur3)"/><rect x="-8" y="-1" width="16" height="12" fill="url(#fadeTop)"/></g>
<polygon points="196.9,693.7 205.3,706.5 188.5,706.5" fill="#fff" stroke="#fff" stroke-width="5" stroke-linejoin="round" filter="url(#blur2)"/>
<rect x="185" y="709" width="23" height="7" fill="url(#fadeBot)"/>
<polyline points="102.6,557 186.1,705 186.1,713.5" fill="none" stroke="#1c1c1c" stroke-width="1.1" />
<polyline points="290.4,557 206.9,705 206.9,713.5" fill="none" stroke="#1c1c1c" stroke-width="1.1" />
<polyline points="117.1,548.9 196.5,689.6 275.9,548.9" fill="none" stroke="#1c1c1c" stroke-width="1.1" />
<rect x="184" y="709.5" width="25" height="6" fill="url(#fadeBot)"/>
<g transform="matrix(0.8709,-0.4915,0.4915,0.8709,109.85,552.95)"><polygon points="-0.8,-12 5,-2.8 2.1,-2.8 2.1,28.4 -3.7,28.4 -3.7,-2.8 -6.6,-2.8" fill="#a3e3e6" stroke="#111" stroke-width="1.1" stroke-linejoin="miter"/></g>
<g transform="matrix(-0.8709,-0.4915,-0.4915,0.8709,283.15,552.95)"><polygon points="-0.8,-12 5,-2.8 2.1,-2.8 2.1,28.4 -3.7,28.4 -3.7,-2.8 -6.6,-2.8" fill="#a3e3e6" stroke="#111" stroke-width="1.1" stroke-linejoin="miter"/></g>
<polygon points="196.9,693.7 205.3,706.5 201.35,706.5 201.35,720.2 192.45,720.2 192.45,706.5 188.5,706.5" fill="#2a9d9b" stroke="#111" stroke-width="1" />
<text x="76.2" y="547.3" font-size="12.5" fill="#111"><tspan font-style="italic">Q</tspan><tspan font-size="9.5" dx="0.3" dy="3.2"><tspan font-style="italic">S</tspan>1</tspan></text>
<text x="293.8" y="547" font-size="12.5" fill="#111"><tspan font-style="italic">Q</tspan><tspan font-size="9.5" dx="0.3" dy="3.2"><tspan font-style="italic">S</tspan>2</tspan></text>
<text x="119.3" y="713.6" font-size="12.5" fill="#111"><tspan font-style="italic">Q</tspan><tspan font-size="9.3" dx="0.3" dy="3.6">(<tspan font-style="italic">S</tspan> &#8722; 1)1</tspan></text>
<rect x="120.5" y="739.4" width="147.1" height="32.8" fill="#f3f3f3" stroke="none" stroke-width="1" />
<text x="125.3" y="760.8" font-size="13.5" fill="#111"><tspan font-style="italic">Q</tspan><tspan font-size="9.5" dy="3"><tspan font-style="italic">S</tspan>1</tspan><tspan dy="-3"> = </tspan><tspan font-style="italic">Q</tspan><tspan font-size="9.5" dy="3"><tspan font-style="italic">S</tspan>2</tspan><tspan dy="-3"> = </tspan></text>
<text x="205.1" y="751" font-size="11.5" text-anchor="middle" font-weight="normal" font-style="normal" fill="#111" >1</text>
<line x1="200.6" y1="754.4" x2="209.6" y2="754.4" stroke="#111" stroke-width="0.9" />
<text x="205.1" y="768.6" font-size="11.5" text-anchor="middle" font-weight="normal" font-style="normal" fill="#111" >2</text>
<text x="219.2" y="760.8" font-size="13.5" fill="#111"><tspan font-style="italic">Q</tspan><tspan font-size="9.5" dy="3.4">(<tspan font-style="italic">S</tspan> &#8722; 1)1</tspan></text>
<polygon points="524.9,694.4 604.3,553.7 618.8,561.8 535.3,709.8 535.3,719.5 514.5,719.5 514.5,709.8" fill="#def4f4" stroke="none" stroke-width="1" />
<path d="M431.56,561.61 L432.33,564.48 L433.1,567.34 L433.88,570.2 L434.67,573.06 L435.47,575.91 L436.29,578.75 L437.12,581.58 L437.97,584.4 L438.84,587.21 L439.74,590 L440.66,592.78 L441.61,595.55 L442.59,598.3 L443.6,601.03 L444.64,603.74 L445.72,606.44 L446.82,609.11 L447.97,611.77 L449.14,614.41 L450.36,617.03 L451.6,619.62 L452.89,622.2 L454.21,624.76 L455.57,627.29 L456.96,629.81 L458.39,632.3 L459.86,634.78 L461.36,637.24 L462.89,639.67 L464.46,642.09 L466.06,644.49 L467.69,646.87 L469.34,649.24 L471.03,651.59 L472.74,653.93 L474.48,656.25 L476.24,658.56 L478.02,660.86 L479.82,663.15 L481.63,665.43 L483.46,667.7 L485.3,669.97 L487.14,672.23 L488.99,674.49 L490.84,676.75 L492.69,679.01 L494.54,681.27 L496.37,683.54 L498.19,685.81 L500,688.09 L501.79,690.39 L503.55,692.7 L505.28,695.02 L506.98,697.37 L508.64,699.73 L510.26,702.12 L511.84,704.54 L513.36,706.98 L515.1,709.5 L514.5,719.5 L535.3,719.5 L535.3,709.8 L524.9,694.4 L524.09,691.71 L523.57,688.86 L523,686.03 L522.38,683.24 L521.71,680.46 L521,677.72 L520.24,675 L519.44,672.3 L518.61,669.63 L517.73,666.98 L516.81,664.35 L515.86,661.74 L514.87,659.14 L513.86,656.57 L512.8,654.02 L511.72,651.48 L510.61,648.96 L509.47,646.45 L508.3,643.96 L507.11,641.49 L505.89,639.03 L504.65,636.58 L503.38,634.15 L502.1,631.73 L500.79,629.32 L499.45,626.92 L498.1,624.53 L496.73,622.16 L495.34,619.8 L493.93,617.44 L492.5,615.1 L491.06,612.77 L489.6,610.44 L488.12,608.13 L486.62,605.82 L485.11,603.53 L483.58,601.24 L482.04,598.96 L480.48,596.7 L478.9,594.44 L477.31,592.19 L475.7,589.95 L474.07,587.71 L472.43,585.49 L470.77,583.28 L469.09,581.08 L467.4,578.88 L465.69,576.7 L463.96,574.53 L462.21,572.36 L460.44,570.21 L458.65,568.07 L456.84,565.94 L455.01,563.83 L453.16,561.72 L451.28,559.63 L449.38,557.55 L447.46,555.49 L445.51,553.44 Z" fill="#33b4b4"/>
<g transform="matrix(0.8709,-0.4915,0.4915,0.8709,438.65,557.15)"><polygon points="-0.6,-23 7,-10.4 3.1,-10.4 3.1,30.1 -4.3,30.1 -4.3,-10.4 -8.2,-10.4" fill="#fff" stroke="#fff" stroke-width="10" filter="url(#blur4)"/><rect x="-11" y="-3" width="22" height="16" fill="url(#fadeTop)"/></g>
<g transform="matrix(-0.8709,-0.4915,-0.4915,0.8709,611.55,557.75)"><polygon points="-0.8,-11.1 5,-2.8 2.1,-2.8 2.1,12.5 -3.7,12.5 -3.7,-2.8 -6.6,-2.8" fill="#fff" stroke="#fff" stroke-width="6" filter="url(#blur3)"/></g>
<g transform="translate(328.4,4.8)"><polygon points="196.9,693.7 205.3,706.5 188.5,706.5" fill="#fff" stroke="#fff" stroke-width="5" stroke-linejoin="round" filter="url(#blur2)"/></g>
<path d="M431.56,561.61 L432.33,564.48 L433.1,567.34 L433.88,570.2 L434.67,573.06 L435.47,575.91 L436.29,578.75 L437.12,581.58 L437.97,584.4 L438.84,587.21 L439.74,590 L440.66,592.78 L441.61,595.55 L442.59,598.3 L443.6,601.03 L444.64,603.74 L445.72,606.44 L446.82,609.11 L447.97,611.77 L449.14,614.41 L450.36,617.03 L451.6,619.62 L452.89,622.2 L454.21,624.76 L455.57,627.29 L456.96,629.81 L458.39,632.3 L459.86,634.78 L461.36,637.24 L462.89,639.67 L464.46,642.09 L466.06,644.49 L467.69,646.87 L469.34,649.24 L471.03,651.59 L472.74,653.93 L474.48,656.25 L476.24,658.56 L478.02,660.86 L479.82,663.15 L481.63,665.43 L483.46,667.7 L485.3,669.97 L487.14,672.23 L488.99,674.49 L490.84,676.75 L492.69,679.01 L494.54,681.27 L496.37,683.54 L498.19,685.81 L500,688.09 L501.79,690.39 L503.55,692.7 L505.28,695.02 L506.98,697.37 L508.64,699.73 L510.26,702.12 L511.84,704.54 L513.36,706.98 L515.1,709.5" fill="none" stroke="#1c1c1c" stroke-width="1.1"/>
<path d="M445.51,553.44 L447.46,555.49 L449.38,557.55 L451.28,559.63 L453.16,561.72 L455.01,563.83 L456.84,565.94 L458.65,568.07 L460.44,570.21 L462.21,572.36 L463.96,574.53 L465.69,576.7 L467.4,578.88 L469.09,581.08 L470.77,583.28 L472.43,585.49 L474.07,587.71 L475.7,589.95 L477.31,592.19 L478.9,594.44 L480.48,596.7 L482.04,598.96 L483.58,601.24 L485.11,603.53 L486.62,605.82 L488.12,608.13 L489.6,610.44 L491.06,612.77 L492.5,615.1 L493.93,617.44 L495.34,619.8 L496.73,622.16 L498.1,624.53 L499.45,626.92 L500.79,629.32 L502.1,631.73 L503.38,634.15 L504.65,636.58 L505.89,639.03 L507.11,641.49 L508.3,643.96 L509.47,646.45 L510.61,648.96 L511.72,651.48 L512.8,654.02 L513.86,656.57 L514.87,659.14 L515.86,661.74 L516.81,664.35 L517.73,666.98 L518.61,669.63 L519.44,672.3 L520.24,675 L521,677.72 L521.71,680.46 L522.38,683.24 L523,686.03 L523.57,688.86 L524.09,691.71 L524.9,694.4" fill="none" stroke="#1c1c1c" stroke-width="1.1"/>
<polyline points="514.5,709.8 514.5,718.3" fill="none" stroke="#1c1c1c" stroke-width="1.1" />
<polyline points="524.9,694.4 604.3,553.7" fill="none" stroke="#1c1c1c" stroke-width="1.1" />
<polyline points="618.8,561.8 535.3,709.8 535.3,718.3" fill="none" stroke="#1c1c1c" stroke-width="1.1" />
<rect x="512.4" y="714.3" width="25" height="6" fill="url(#fadeBot)"/>
<g transform="matrix(-0.8709,-0.4915,-0.4915,0.8709,611.55,557.75)"><rect x="-10" y="-2" width="20" height="13" fill="url(#fadeTop2)"/></g>
<g transform="matrix(0.8709,-0.4915,0.4915,0.8709,438.65,557.15)"><rect x="-13" y="-4" width="26" height="20" fill="url(#fadeTop3)"/></g>
<g transform="matrix(0.8709,-0.4915,0.4915,0.8709,438.65,557.15)"><polygon points="-0.6,-23 7,-10.4 3.1,-10.4 3.1,30.1 -4.3,30.1 -4.3,-10.4 -8.2,-10.4" fill="#fff" stroke="#fff" stroke-width="6" filter="url(#blur4)" opacity="0.7"/></g>
<g transform="matrix(0.8709,-0.4915,0.4915,0.8709,438.65,557.15)"><polygon points="-0.6,-23 7,-10.4 3.1,-10.4 3.1,30.1 -4.3,30.1 -4.3,-10.4 -8.2,-10.4" fill="#33b4b4" stroke="#111" stroke-width="1.1"/></g>
<g transform="matrix(-0.8709,-0.4915,-0.4915,0.8709,611.55,557.75)"><polygon points="-0.8,-11.1 5,-2.8 2.1,-2.8 2.1,12.5 -3.7,12.5 -3.7,-2.8 -6.6,-2.8" fill="#def4f4" stroke="#111" stroke-width="1.1"/></g>
<polygon points="525.3,698.5 533.7,711.3 529.75,711.3 529.75,725 520.85,725 520.85,711.3 516.9,711.3" fill="#2a9d9b" stroke="#111" stroke-width="1" />
<text x="394.5" y="551" font-size="12.5" fill="#111"><tspan font-style="italic">Q</tspan><tspan font-size="9.5" dx="0.8" dy="-6.6">M</tspan><tspan font-size="9.5" dx="-7.6" dy="11.2"><tspan font-style="italic">S</tspan>1</tspan></text>
<text x="626.8" y="548.2" font-size="12.5" fill="#111"><tspan font-style="italic">Q</tspan><tspan font-size="9.5" dx="0.3" dy="3.6"><tspan font-style="italic">S</tspan>2</tspan></text>
<text x="447.4" y="716" font-size="12.5" fill="#111"><tspan font-style="italic">Q</tspan><tspan font-size="9.2" dx="0.3" dy="3.6">(<tspan font-style="italic">S</tspan> &#8722; 1)1</tspan></text>
<text x="639.8" y="599.6" font-size="12.5" text-anchor="start" font-weight="normal" font-style="italic" fill="#111" >Q</text>
<rect x="636.9" y="609.2" width="20.6" height="160.3" fill="url(#cbar)" stroke="#111" stroke-width="1.3" />
<rect x="489" y="744.2" width="70.6" height="29.2" fill="#f3f3f3" stroke="none" stroke-width="1" />
<text x="494.4" y="763.4" font-size="13.5" fill="#111"><tspan font-style="italic">Q</tspan><tspan font-size="9.5" dx="0.8" dy="-7">M</tspan><tspan font-size="9.5" dx="-8.2" dy="10.5"><tspan font-style="italic">S</tspan>1</tspan><tspan dy="-3.5"> &gt; </tspan><tspan font-style="italic">Q</tspan><tspan font-size="9.5" dy="3.5"><tspan font-style="italic">S</tspan>2</tspan></text>
</svg>
</body></html>
